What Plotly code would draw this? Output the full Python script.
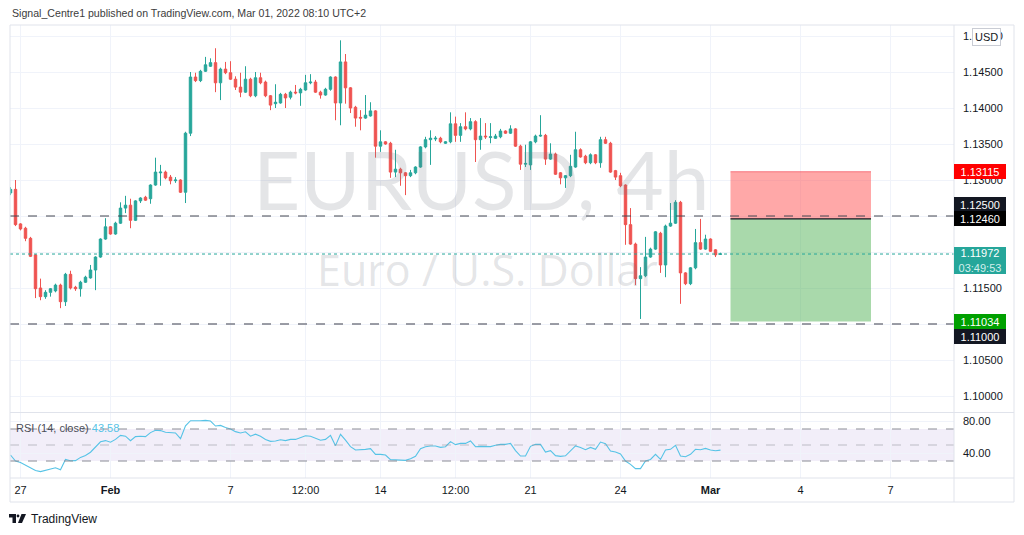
import plotly.graph_objects as go

W, H = 1024, 535
FONT = "Liberation Sans"

# ---------------- data (EURUSD 4h candles) ----------------
open_ = [1.1282, 1.1287, 1.1239, 1.1233, 1.1219, 1.1196, 1.1150, 1.1138, 1.1144, 1.1146,
         1.1154, 1.1131, 1.1169, 1.1151, 1.1149, 1.1158, 1.1164, 1.1175, 1.1193, 1.1218,
         1.1235, 1.1225, 1.1240, 1.1261, 1.1265, 1.1244, 1.1271, 1.1276, 1.1274, 1.1293,
         1.1310, 1.1311, 1.1304, 1.1299, 1.1300, 1.1283, 1.1365, 1.1443, 1.1438, 1.1451,
         1.1458, 1.1463, 1.1435, 1.1454, 1.1449, 1.1440, 1.1429, 1.1422, 1.1440, 1.1417,
         1.1442, 1.1436, 1.1417, 1.1406, 1.1407, 1.1419, 1.1415, 1.1422, 1.1421, 1.1425,
         1.1435, 1.1436, 1.1422, 1.1418, 1.1426, 1.1443, 1.1407, 1.1464, 1.1428, 1.1401,
         1.1387, 1.1386, 1.1389, 1.1396, 1.1347, 1.1353, 1.1351, 1.1311, 1.1315, 1.1310,
         1.1306, 1.1310, 1.1318, 1.1346, 1.1356, 1.1357, 1.1358, 1.1351, 1.1353, 1.1378,
         1.1362, 1.1374, 1.1371, 1.1381, 1.1356, 1.1361, 1.1359, 1.1358, 1.1360, 1.1368,
         1.1365, 1.1371, 1.1347, 1.1322, 1.1321, 1.1353, 1.1361, 1.1362, 1.1329, 1.1336,
         1.1310, 1.1303, 1.1306, 1.1318, 1.1342, 1.1333, 1.1324, 1.1335, 1.1324, 1.1356,
         1.1351, 1.1313, 1.1306, 1.1293, 1.1238, 1.1211, 1.1163, 1.1167, 1.1193, 1.1204,
         1.1226, 1.1182, 1.1236, 1.1240, 1.1269, 1.1171, 1.1156, 1.1178, 1.1213, 1.1204,
         1.1218, 1.1203, 1.1197]
high = [1.1290, 1.1300, 1.1240, 1.1235, 1.1221, 1.1197, 1.1163, 1.1147, 1.1150, 1.1156,
        1.1156, 1.1171, 1.1174, 1.1153, 1.1160, 1.1167, 1.1182, 1.1194, 1.1219, 1.1247,
        1.1236, 1.1242, 1.1269, 1.1278, 1.1274, 1.1272, 1.1276, 1.1278, 1.1294, 1.1331,
        1.1321, 1.1313, 1.1307, 1.1304, 1.1301, 1.1367, 1.1450, 1.1449, 1.1453, 1.1471,
        1.1469, 1.1483, 1.1456, 1.1464, 1.1465, 1.1444, 1.1449, 1.1458, 1.1442, 1.1450,
        1.1449, 1.1438, 1.1418, 1.1433, 1.1421, 1.1421, 1.1424, 1.1432, 1.1428, 1.1446,
        1.1447, 1.1439, 1.1424, 1.1428, 1.1444, 1.1444, 1.1494, 1.1475, 1.1429, 1.1403,
        1.1397, 1.1418, 1.1408, 1.1397, 1.1369, 1.1354, 1.1353, 1.1342, 1.1317, 1.1311,
        1.1314, 1.1319, 1.1347, 1.1360, 1.1369, 1.1361, 1.1360, 1.1354, 1.1394, 1.1388,
        1.1379, 1.1394, 1.1386, 1.1383, 1.1386, 1.1379, 1.1379, 1.1364, 1.1371, 1.1369,
        1.1376, 1.1372, 1.1349, 1.1349, 1.1354, 1.1363, 1.1390, 1.1364, 1.1351, 1.1338,
        1.1311, 1.1307, 1.1335, 1.1367, 1.1344, 1.1335, 1.1337, 1.1336, 1.1360, 1.1360,
        1.1353, 1.1314, 1.1310, 1.1294, 1.1261, 1.1213, 1.1179, 1.1221, 1.1206, 1.1229,
        1.1228, 1.1238, 1.1268, 1.1272, 1.1271, 1.1172, 1.1179, 1.1232, 1.1246, 1.1224,
        1.1219, 1.1204, 1.1199]
low = [1.1279, 1.1236, 1.1230, 1.1215, 1.1193, 1.1136, 1.1133, 1.1135, 1.1138, 1.1144,
       1.1122, 1.1125, 1.1148, 1.1146, 1.1138, 1.1157, 1.1163, 1.1147, 1.1192, 1.1217,
       1.1224, 1.1224, 1.1239, 1.1254, 1.1233, 1.1243, 1.1268, 1.1271, 1.1267, 1.1292,
       1.1292, 1.1301, 1.1294, 1.1296, 1.1282, 1.1268, 1.1361, 1.1436, 1.1436, 1.1450,
       1.1457, 1.1422, 1.1411, 1.1447, 1.1439, 1.1425, 1.1415, 1.1421, 1.1415, 1.1415,
       1.1433, 1.1415, 1.1397, 1.1400, 1.1406, 1.1400, 1.1412, 1.1419, 1.1403, 1.1424,
       1.1433, 1.1421, 1.1413, 1.1417, 1.1424, 1.1383, 1.1376, 1.1406, 1.1393, 1.1374,
       1.1369, 1.1385, 1.1388, 1.1331, 1.1339, 1.1349, 1.1303, 1.1304, 1.1292, 1.1279,
       1.1304, 1.1308, 1.1317, 1.1344, 1.1321, 1.1354, 1.1351, 1.1350, 1.1351, 1.1353,
       1.1353, 1.1369, 1.1369, 1.1325, 1.1342, 1.1357, 1.1351, 1.1357, 1.1358, 1.1364,
       1.1364, 1.1346, 1.1314, 1.1318, 1.1314, 1.1351, 1.1360, 1.1321, 1.1328, 1.1307,
       1.1294, 1.1289, 1.1304, 1.1317, 1.1331, 1.1322, 1.1322, 1.1322, 1.1317, 1.1350,
       1.1310, 1.1300, 1.1290, 1.1210, 1.1210, 1.1154, 1.1107, 1.1165, 1.1192, 1.1203,
       1.1171, 1.1165, 1.1235, 1.1239, 1.1128, 1.1154, 1.1154, 1.1176, 1.1203, 1.1203,
       1.1200, 1.1193, 1.1196]
close = [1.1287, 1.1238, 1.1232, 1.1219, 1.1194, 1.1149, 1.1138, 1.1144, 1.1149, 1.1154,
         1.1131, 1.1169, 1.1150, 1.1149, 1.1158, 1.1165, 1.1175, 1.1193, 1.1218, 1.1235,
         1.1225, 1.1240, 1.1261, 1.1265, 1.1244, 1.1271, 1.1275, 1.1272, 1.1293, 1.1311,
         1.1311, 1.1303, 1.1299, 1.1300, 1.1283, 1.1365, 1.1443, 1.1438, 1.1451, 1.1460,
         1.1463, 1.1435, 1.1454, 1.1449, 1.1440, 1.1429, 1.1422, 1.1440, 1.1417, 1.1442,
         1.1435, 1.1417, 1.1404, 1.1408, 1.1419, 1.1414, 1.1422, 1.1421, 1.1426, 1.1435,
         1.1436, 1.1422, 1.1418, 1.1426, 1.1443, 1.1407, 1.1464, 1.1428, 1.1400, 1.1386,
         1.1386, 1.1390, 1.1396, 1.1347, 1.1353, 1.1350, 1.1311, 1.1315, 1.1310, 1.1306,
         1.1310, 1.1318, 1.1346, 1.1356, 1.1358, 1.1358, 1.1353, 1.1353, 1.1378, 1.1362,
         1.1374, 1.1371, 1.1381, 1.1356, 1.1361, 1.1360, 1.1360, 1.1361, 1.1368, 1.1365,
         1.1371, 1.1347, 1.1322, 1.1323, 1.1353, 1.1361, 1.1362, 1.1329, 1.1336, 1.1308,
         1.1303, 1.1306, 1.1319, 1.1342, 1.1332, 1.1324, 1.1335, 1.1324, 1.1356, 1.1351,
         1.1311, 1.1304, 1.1292, 1.1238, 1.1211, 1.1163, 1.1167, 1.1193, 1.1204, 1.1228,
         1.1182, 1.1236, 1.1240, 1.1269, 1.1171, 1.1156, 1.1178, 1.1213, 1.1204, 1.1218,
         1.1201, 1.1196, 1.11972]
rsi = [37.5, 30, 28, 25, 21.5, 18, 16.7, 18.5, 19.5, 21.5,
       19, 32, 30.4, 30.5, 34.5, 37, 41, 47.9, 54, 55.5,
       53.5, 57, 62, 61, 55.4, 60.5, 61, 60.5, 65.5, 68.5,
       68, 66, 65.5, 65, 58, 74, 80.4, 80, 80.3, 80.8,
       80, 73.7, 74.5, 72, 70, 66.7, 65, 66.5, 61, 63.5,
       61, 57, 54.6, 55, 56.5, 55.5, 57, 57, 59.6, 61.5,
       61, 58, 56, 57, 62, 49.2, 63.3, 56, 48, 43.7,
       43.7, 44.5, 45.5, 38.3, 38.3, 37.5, 31.7, 31.7, 31, 30.8,
       32.9, 35.8, 45.4, 47.9, 48.8, 48.8, 47, 47.9, 54.2, 50.5,
       52, 52, 55, 47.9, 48.3, 48, 48, 49.6, 50.8, 50.8,
       52, 43, 36.2, 36.2, 48.3, 50.8, 50.8, 41.2, 42.9, 36.7,
       35.8, 36.5, 42.1, 48.8, 47, 44.1, 47, 44.6, 53.7, 51.7,
       42.5, 41.2, 38.7, 30, 25.8, 20.5, 20.5, 30, 32, 38.3,
       32, 43.7, 44.6, 49.6, 36.2, 35.4, 38.3, 44.6, 44, 45.8,
       43.7, 42.9, 43.58]
bar_index = list(range(len(close)))

# time axis (bar positions of the labels)
tick_pos = [2, 20, 44, 59, 74, 89, 104, 122, 140, 158, 176]
tick_text = ["27", "<b>Feb</b>", "7", "12:00", "14", "12:00", "21", "24", "<b>Mar</b>", "4", "7"]
price_ticks = [1.100, 1.105, 1.110, 1.115, 1.120, 1.125, 1.130, 1.135, 1.140, 1.145, 1.150]
hidden_price_ticks = [1.110, 1.120, 1.125]   # covered by the price tags on the scale
rsi_ticks = [40, 80]

# drawn levels / short position tool
level_hi = 1.12500
level_lo = 1.11000
entry, stop, target = 1.12460, 1.13115, 1.11034
pos_start, pos_end = 144.0, 172.1
countdown = "03:49:53"

GREEN = "#26a69a"
RED = "#ef5350"
TXT = "#131722"
GRID = "#f0f3fa"
BORDER = "#e0e3eb"


def px(x):
    return x / W


def py(y):
    return 1 - y / H


fig = go.Figure()

fig.add_trace(go.Candlestick(
    x=bar_index, open=open_, high=high, low=low, close=close,
    increasing=dict(line=dict(color=GREEN, width=1), fillcolor=GREEN),
    decreasing=dict(line=dict(color=RED, width=1), fillcolor=RED),
    whiskerwidth=0, hoverinfo="skip", showlegend=False, xaxis="x", yaxis="y"))

fig.add_trace(go.Scatter(
    x=bar_index, y=rsi, mode="lines", line=dict(color="#56c3e6", width=1.1),
    hoverinfo="skip", showlegend=False, xaxis="x2", yaxis="y2"))

xdom = [px(10), px(954)]
xrange_ = [-0.1, 188.7]
common_x = dict(domain=xdom, range=xrange_, tickvals=tick_pos, ticktext=tick_text,
                showgrid=True, gridcolor=GRID, gridwidth=1, zeroline=False,
                showline=False, ticks="", fixedrange=True)

fig.update_layout(
    width=W, height=H, autosize=False,
    margin=dict(l=0, r=0, t=0, b=0, pad=0),
    paper_bgcolor="white", plot_bgcolor="white",
    font=dict(family=FONT, size=11, color=TXT),
    boxgap=0.3,
    xaxis=dict(**common_x, anchor="y", showticklabels=False,
               rangeslider=dict(visible=False)),
    yaxis=dict(domain=[py(412), py(25)], range=[1.0977778, 1.1515278], side="right",
               anchor="x", tickvals=price_ticks,
               ticktext=["" if v in hidden_price_ticks else f"{v:.5f}" for v in price_ticks],
               showgrid=True, gridcolor=GRID, zeroline=False, showline=False,
               ticks="", ticklabelstandoff=8, tickfont=dict(size=11, color=TXT)),
    xaxis2=dict(**common_x, anchor="y2", showticklabels=True,
                tickfont=dict(size=11, color=TXT), ticklabelstandoff=4),
    yaxis2=dict(domain=[py(478), py(413)], range=[8.75, 90], side="right",
                anchor="x2", tickvals=rsi_ticks,
                ticktext=[f"{v:.2f}" for v in rsi_ticks],
                showgrid=True, gridcolor=GRID, zeroline=False, showline=False,
                ticks="", ticklabelstandoff=8, tickfont=dict(size=11, color=TXT)),
)

shapes = []
# short position tool
shapes.append(dict(type="rect", xref="x", yref="y", x0=pos_start, x1=pos_end,
                   y0=entry, y1=stop, fillcolor="rgba(255,82,82,0.5)",
                   line=dict(width=0), layer="above"))
shapes.append(dict(type="rect", xref="x", yref="y", x0=pos_start, x1=pos_end,
                   y0=target, y1=entry, fillcolor="rgba(76,175,80,0.48)",
                   line=dict(width=0), layer="above"))
shapes.append(dict(type="line", xref="x", yref="y", x0=pos_start, x1=pos_end,
                   y0=stop, y1=stop, line=dict(color="rgba(242,54,69,0.6)", width=1)))
shapes.append(dict(type="line", xref="x", yref="y", x0=pos_start, x1=pos_end,
                   y0=entry, y1=entry, line=dict(color="#131722", width=1.2)))
# horizontal levels
shapes.append(dict(type="line", xref="x domain", yref="y", x0=0, x1=1,
                   y0=level_hi, y1=level_hi, line=dict(color="#434651", width=1, dash="dash")))
shapes.append(dict(type="line", xref="x domain", yref="y", x0=0, x1=1,
                   y0=level_lo, y1=level_lo, line=dict(color="#7b7e88", width=1.3, dash="dash")))
# current price line
shapes.append(dict(type="line", xref="x domain", yref="y", x0=0, x1=1,
                   y0=close[-1], y1=close[-1], line=dict(color=GREEN, width=1, dash="dot")))
# RSI band and levels
shapes.append(dict(type="rect", xref="x2 domain", yref="y2", x0=0, x1=1, y0=30, y1=70,
                   fillcolor="rgba(126,87,194,0.1)", line=dict(width=0), layer="below"))
for lv, col in [(70, "#8a8c95"), (50, "rgba(138,140,149,0.5)"), (30, "#8a8c95")]:
    shapes.append(dict(type="line", xref="x2 domain", yref="y2", x0=0, x1=1, y0=lv, y1=lv,
                       line=dict(color=col, width=1, dash="dash")))
# frame
shapes.append(dict(type="rect", xref="paper", yref="paper", x0=px(10), x1=px(1014),
                   y0=py(502), y1=py(25), line=dict(color=BORDER, width=1)))
shapes.append(dict(type="line", xref="paper", yref="paper", x0=px(954), x1=px(954),
                   y0=py(502), y1=py(25), line=dict(color=BORDER, width=1)))
shapes.append(dict(type="line", xref="paper", yref="paper", x0=px(10), x1=px(1014),
                   y0=py(412.5), y1=py(412.5), line=dict(color=BORDER, width=1)))
shapes.append(dict(type="line", xref="paper", yref="paper", x0=px(10), x1=px(1014),
                   y0=py(478), y1=py(478), line=dict(color=BORDER, width=1)))
# TradingView logo
shapes.append(dict(type="path", xref="paper", yref="paper",
                   path=f"M {px(9)},{py(514)} L {px(16)},{py(514)} L {px(16)},{py(523)} "
                        f"L {px(12.5)},{py(523)} L {px(12.5)},{py(517.5)} L {px(9)},{py(517.5)} Z",
                   fillcolor=TXT, line=dict(width=0)))
shapes.append(dict(type="circle", xref="paper", yref="paper", x0=px(16.6), x1=px(19.4),
                   y0=py(517.4), y1=py(514.6), fillcolor=TXT, line=dict(width=0)))
shapes.append(dict(type="path", xref="paper", yref="paper",
                   path=f"M {px(21.5)},{py(514)} L {px(26)},{py(514)} L {px(22)},{py(523)} "
                        f"L {px(18)},{py(523)} Z",
                   fillcolor=TXT, line=dict(width=0)))
fig.update_layout(shapes=shapes)

ann = []
WM = "rgba(120,123,134,0.2)"


def text_at(text, x, y, size, color, family=FONT, xanchor="center", **kw):
    return dict(text=text, x=px(x), y=py(y), xref="paper", yref="paper",
                xanchor=xanchor, yanchor="middle", showarrow=False,
                font=dict(family=family, size=size, color=color), **kw)


ann.append(text_at("EURUSD, 4h", 481, 178, 82, WM, family="Lato"))
ann.append(text_at("Euro / U.S. Dollar", 487, 269, 43, WM, family="Open Sans"))
ann.append(text_at("Signal_Centre1 published on TradingView.com, Mar 01, 2022 08:10 UTC+2",
                   10, 13, 10.6, "#3c3c3c", xanchor="left"))
ann.append(text_at("TradingView", 29, 519, 12, TXT, xanchor="left"))
ann.append(text_at(f"RSI (14, close) <span style='color:#56c3e6'>{rsi[-1]:.2f}</span>",
                   14, 428, 11, "#4a4d57", xanchor="left"))
ann.append(text_at("USD", 986, 37.5, 11, TXT, bgcolor="white", bordercolor="#c9ccd4",
                   borderwidth=1, borderpad=2))


def tag(val, bg, yshift=0, text=None, h=13, yanchor="middle"):
    return dict(x=px(954), xref="paper", xanchor="left", y=val, yref="y",
                yanchor=yanchor, yshift=yshift, text=text or f"{val:.5f}",
                showarrow=False, bgcolor=bg, width=50, height=h, borderpad=1,
                borderwidth=0, align="center",
                font=dict(family=FONT, size=11, color="white"))


ann.append(tag(stop, "#ff0000"))
ann.append(tag(level_hi, "#131722", yshift=12))
ann.append(tag(entry, "#000000"))
ann.append(tag(close[-1], GREEN, yshift=7, yanchor="top", h=25,
               text=f"{close[-1]:.5f}<br><span style='color:#d2efec'>{countdown}</span>"))
ann.append(tag(target, "#00a000"))
ann.append(tag(level_lo, "#131722", yshift=-12.5))
fig.update_layout(annotations=ann)

fig.write_html("out.html", config={"displayModeBar": False, "staticPlot": True},
               post_script="document.body.style.margin='0';")
